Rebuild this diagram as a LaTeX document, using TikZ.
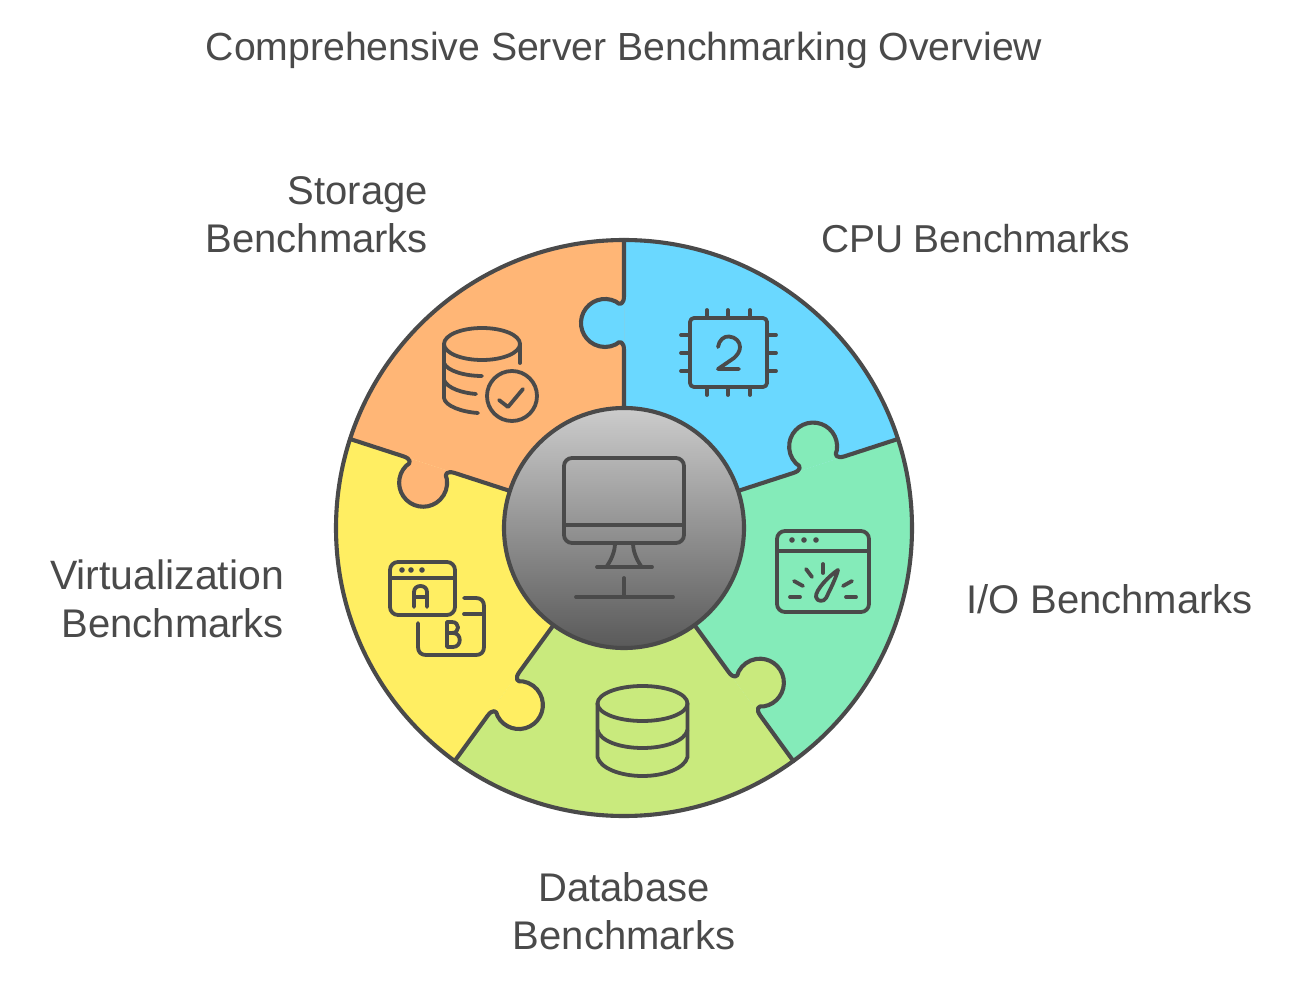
\documentclass[tikz,border=0pt]{standalone}
\usepackage{fontspec}
\setmainfont{Liberation Sans}
\definecolor{ink}{HTML}{4A4A4A}
\definecolor{pblue}{HTML}{6AD8FF}
\definecolor{pgreen}{HTML}{84EBB9}
\definecolor{plime}{HTML}{C9EA7D}
\definecolor{pyellow}{HTML}{FFEE62}
\definecolor{porange}{HTML}{FFB676}
\tikzset{
  stroke/.style={draw=ink,line width=2.05pt,line join=round,line cap=round},
  icon/.style={draw=ink,line width=1.9pt,line join=round,line cap=round},
  lbl/.style={text=ink,font=\fontsize{20}{24}\selectfont,inner sep=0pt,outer sep=0pt},
}
\newcommand\knobpath{(0,-232) .. controls (0,-224) and (-4,-222) .. (-8.3,-226.5) arc[start angle=-63.5,end angle=-296.5,radius=24] .. controls (-4,-188) and (0,-186) .. (0,-178)}
\newcommand\piece[2]{%
  \begin{scope}[shift={(624,528)},rotate=#1]
    \fill[#2] (0,0) -- (0,-288) arc[start angle=-90,end angle=-18,radius=288] -- cycle;
  \end{scope}}
\newcommand\knob[2]{%
  \begin{scope}[shift={(624,528)},rotate=#1]
    \fill[#2] \knobpath -- cycle;
  \end{scope}}
\newcommand\seam[1]{%
  \begin{scope}[shift={(624,528)},rotate=#1]
    \draw[stroke] (0,-288) -- \knobpath -- (0,-120);
  \end{scope}}
\begin{document}
\begin{tikzpicture}[x=0.5pt,y=-0.5pt]
\useasboundingbox (0,0) rectangle (1296,984);
\fill[white] (0,0) rectangle (1296,984);
% pieces
\piece{0}{pblue}\piece{-72}{pgreen}\piece{-144}{plime}\piece{-216}{pyellow}\piece{-288}{porange}
\knob{0}{pblue}\knob{-72}{pgreen}\knob{-144}{plime}\knob{-216}{pyellow}\knob{-288}{porange}
\seam{0}\seam{-72}\seam{-144}\seam{-216}\seam{-288}
\draw[stroke] (624,528) circle[radius=288];
\draw[stroke,top color=black!20,bottom color=black!65,shading angle=0] (624,528) circle[radius=120];
% CPU icon
\draw[icon,rounded corners=2pt] (690,318) rectangle (767,387);
\foreach \x in {707,728,750}{\draw[icon] (\x,310) -- (\x,318); \draw[icon] (\x,387) -- (\x,395);}
\foreach \y in {335,353,371}{\draw[icon] (681,\y) -- (690,\y); \draw[icon] (767,\y) -- (776,\y);}
\draw[icon] (718,347) .. controls (719,340) and (724,336) .. (729,336.5) .. controls (736,337) and (740,342) .. (740,347) .. controls (740,352) and (737,355) .. (734,358) -- (718,369) -- (739,369);
% Storage icon
\draw[icon] (482,344) ellipse[x radius=38,y radius=16];
\draw[icon] (444,344) -- (444,398) .. controls (445,406) and (462,412) .. (478,413);
\draw[icon] (520,344) -- (520,363);
\draw[icon] (444,363) .. controls (447,371) and (465,376) .. (482,376);
\draw[icon] (444,380) .. controls (447,388) and (462,393) .. (476,394);
\draw[icon] (512,396) circle[radius=25];
\draw[icon] (499,400) -- (508,407) -- (523,389);
% A/B icon
\draw[icon,rounded corners=4pt] (390,562) rectangle (455,615);
\draw[icon] (390,578) -- (455,578);
\foreach \x in {402,411,422}{\fill[ink] (\x,570) circle[radius=2.8];}
\draw[icon] (414,607) -- (414,592) .. controls (414,584) and (427,584) .. (427,592) -- (427,607);
\draw[icon] (414,597) -- (427,597);
\draw[icon] (464,598) -- (476,598) .. controls (481,598) and (484,601) .. (484,606) -- (484,647) .. controls (484,652) and (481,655) .. (476,655) -- (426,655) .. controls (421,655) and (418,652) .. (418,647) -- (418,623);
\draw[icon] (464,614) -- (484,614);
\draw[icon] (447,622) -- (447,647) -- (453,647) .. controls (462,647) and (462,633) .. (453,633) -- (447,633);
\draw[icon] (447,622) -- (452,622) .. controls (460,622) and (460,633) .. (452,633);
% Monitor icon
\draw[icon,rounded corners=4pt] (564,458) rectangle (684,543);
\draw[icon] (564,525) -- (684,525);
\draw[icon] (615,543) .. controls (615,552) and (611,560) .. (607,566);
\draw[icon] (633,543) .. controls (633,552) and (637,560) .. (641,566);
\draw[icon] (597,567) -- (652,567);
\draw[icon] (624,578) -- (624,597);
\draw[icon] (576,597) -- (673,597);
% Database icon
\draw[icon] (642.5,703.5) ellipse[x radius=45,y radius=17.5];
\draw[icon] (597.5,703.5) -- (597.5,757) .. controls (600,768) and (620,776) .. (642.5,776) .. controls (665,776) and (685,768) .. (687.5,757) -- (687.5,703.5);
\draw[icon] (597.5,730) .. controls (600,741) and (620,748) .. (642.5,748) .. controls (665,748) and (685,741) .. (687.5,730);
% I/O icon
\draw[icon,rounded corners=4pt] (777,531) rectangle (869,612);
\draw[icon] (777,551) -- (869,551);
\foreach \x in {792,804,816}{\fill[ink] (\x,540) circle[radius=2.8];}
\draw[icon] (790,597) -- (800,597);
\draw[icon] (846,597) -- (856,597);
\draw[icon] (794,581) -- (803,586);
\draw[icon] (806,569) -- (812,577);
\draw[icon] (823,564) -- (823,573);
\draw[icon] (852,581) -- (843,586);
\draw[icon] (838,570) .. controls (830,575) and (815,590) .. (816,597) .. controls (817,602) and (824,602) .. (826,598) .. controls (830,590) and (836,578) .. cycle;
% Texts
\node[lbl,anchor=center,font=\fontsize{19.6}{24}\selectfont] (title) at (624,50) {Comprehensive Server Benchmarking Overview};
\node[lbl,anchor=east,align=right] (storage) at (428,215) {Storage\\Benchmarks};
\node[lbl,anchor=west,font=\fontsize{19.45}{24}\selectfont] (cpu) at (821,239) {CPU Benchmarks};
\node[lbl,anchor=west] (io) at (966,599) {I/O Benchmarks};
\node[lbl,anchor=center,align=center] (database) at (624,911) {Database\\Benchmarks};
\node[lbl,anchor=east,align=right] (virt) at (284,599) {{\fontsize{20.5}{24}\selectfont Virtualization}\\Benchmarks};
\end{tikzpicture}
\end{document}
